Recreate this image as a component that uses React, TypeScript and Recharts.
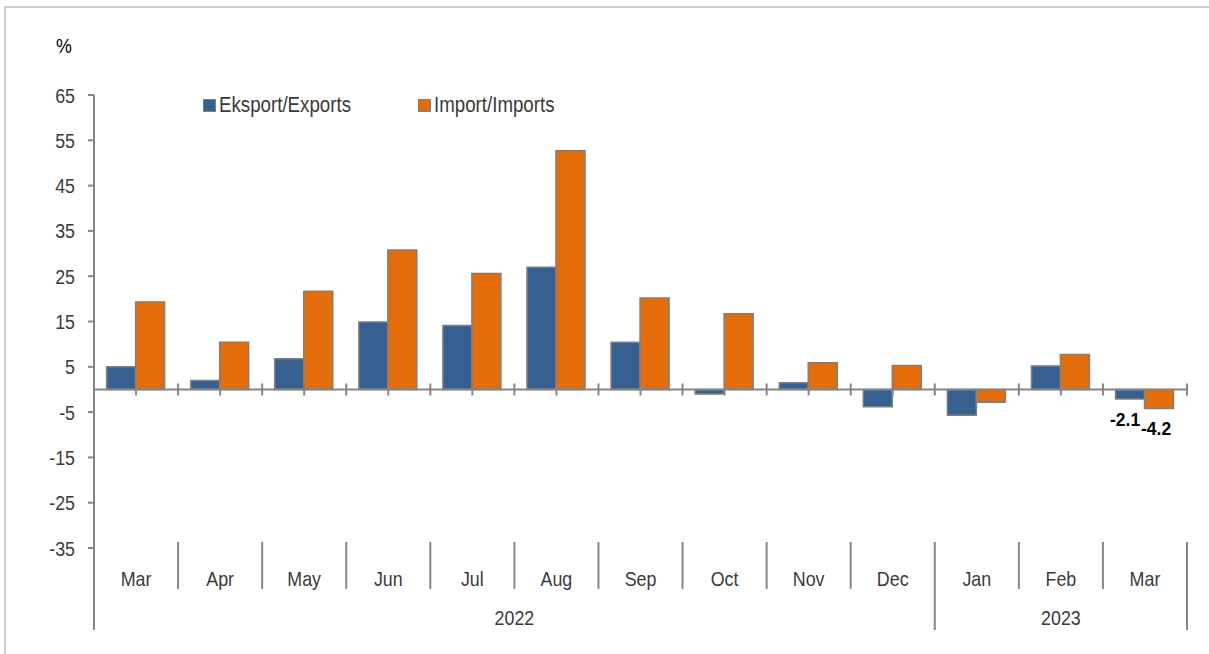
import { BarChart, Bar, XAxis, YAxis, ReferenceLine, Legend } from 'recharts'

// ---- data ----
const MONTHS = ['Mar', 'Apr', 'May', 'Jun', 'Jul', 'Aug', 'Sep', 'Oct', 'Nov', 'Dec', 'Jan', 'Feb', 'Mar']
const YEARS = ['2022', '2022', '2022', '2022', '2022', '2022', '2022', '2022', '2022', '2022', '2023', '2023', '2023']
const EXPORTS = [5.0, 2.0, 6.8, 14.9, 14.1, 27.0, 10.4, -1.0, 1.5, -3.8, -5.7, 5.2, -2.1]
const IMPORTS = [19.3, 10.4, 21.7, 30.8, 25.6, 52.7, 20.2, 16.7, 5.9, 5.3, -2.8, 7.7, -4.2]
const Y_TICKS = [-35, -25, -15, -5, 5, 15, 25, 35, 45, 55, 65]
const LABELLED_INDEX = 12 // only the latest month carries value labels

const SERIES = [
  { key: 'exports', name: 'Eksport/Exports', color: '#376092' },
  { key: 'imports', name: 'Import/Imports', color: '#E46C0A' },
]

// ---- layout ----
const W = 1209
const H = 654
const MARGIN = { top: 95, right: 22, bottom: 0, left: 0 }
const Y_AXIS_W = 94
const X_AXIS_H = 106
const PLOT_L = MARGIN.left + Y_AXIS_W
const PLOT_R = W - MARGIN.right
const PLOT_T = MARGIN.top
const PLOT_B = H - MARGIN.bottom - X_AXIS_H
const Y_MIN = -35
const Y_MAX = 65

const AXIS_GREY = '#868686'
const TEXT = '#3a3a3a'
const FONT = "'Liberation Sans', Arial, sans-serif"
const NARROW = 0.85 // no Arial Narrow here, so squeeze Liberation Sans

const data = MONTHS.map((m, i) => ({
  key: `${m} ${YEARS[i]}`,
  exports: EXPORTS[i],
  imports: IMPORTS[i],
}))

// svg text squeezed horizontally around its anchor point
function NarrowText({ x, y, anchor = 'middle', size = 21, fill = TEXT, weight, children }: any) {
  return (
    <text
      transform={`translate(${x},${y}) scale(${NARROW},1)`}
      textAnchor={anchor}
      dominantBaseline="central"
      fill={fill}
      fontSize={size}
      fontWeight={weight}
      fontFamily={FONT}
    >
      {children}
    </text>
  )
}

function YTick(props: any) {
  const { x, y, payload } = props
  return <NarrowText x={x} y={y} anchor="end">{payload.value}</NarrowText>
}

function MonthTick(props: any) {
  const { x, y, payload } = props
  const i: number = props.index ?? payload.index
  const n = MONTHS.length
  const bw = (PLOT_R - PLOT_L) / n
  const left = x - bw / 2
  const zeroY = PLOT_T + (Y_MAX / (Y_MAX - Y_MIN)) * (PLOT_B - PLOT_T)
  const groupStart = i === 0 || YEARS[i] !== YEARS[i - 1]
  const isLast = i === n - 1
  const count = YEARS.filter(v => v === YEARS[i]).length
  const st = { stroke: AXIS_GREY, strokeWidth: 2 }
  return (
    <g>
      {/* tick marks on the zero line */}
      <line x1={x} x2={x} y1={zeroY} y2={zeroY + 6} {...st} />
      {i > 0 && <line x1={left} x2={left} y1={zeroY - 6} y2={zeroY + 6} {...st} />}
      {isLast && <line x1={left + bw} x2={left + bw} y1={zeroY - 6} y2={zeroY + 6} {...st} />}
      {/* category separators below the plot */}
      <line x1={left} x2={left} y1={y - 6} y2={groupStart ? y + 82 : y + 41} {...st} />
      {isLast && <line x1={left + bw} x2={left + bw} y1={y - 6} y2={y + 82} {...st} />}
      <NarrowText x={x} y={y + 30}>{MONTHS[i]}</NarrowText>
      {groupStart && <NarrowText x={left + (count * bw) / 2} y={y + 69}>{YEARS[i]}</NarrowText>}
    </g>
  )
}

function makeValueLabel(dx: number) {
  return (props: any) => {
    const { x, y, width, height, value, index } = props
    if (index !== LABELLED_INDEX) return null
    const bottom = Math.max(y, y + height)
    return (
      <text
        transform={`translate(${x + width / 2 + dx},${bottom + 20}) scale(0.92,1)`}
        textAnchor="middle"
        dominantBaseline="central"
        fill="#000"
        fontSize={19}
        fontWeight="bold"
        fontFamily={FONT}
      >
        {Number(value).toFixed(1)}
      </text>
    )
  }
}

const renderLegend = () => (
  <div style={{ display: 'flex', fontFamily: FONT, fontSize: 22, color: TEXT }}>
    {SERIES.map(s => (
      <div key={s.key} style={{ display: 'flex', alignItems: 'center', width: 215 }}>
        <span style={{ width: 11, height: 11, background: s.color, border: '1px solid #7f7f7f', marginRight: 3, flex: 'none' }} />
        <span style={{ display: 'inline-block', transform: `scaleX(${NARROW})`, transformOrigin: 'left center', whiteSpace: 'nowrap' }}>
          {s.name}
        </span>
      </div>
    ))}
  </div>
)

export default function App() {
  return (
    <div style={{ position: 'absolute', left: 0, top: 0, width: W, height: H, background: '#fff', overflow: 'hidden' }}>
      <div style={{ position: 'absolute', left: 4, top: 6, width: W + 20, height: H + 20, borderTop: '2px solid #cfcfcf', borderLeft: '2px solid #cfcfcf' }} />
      <div style={{ position: 'absolute', left: 56, top: 34, fontFamily: FONT, fontSize: 21, color: '#000', transform: `scaleX(${NARROW})`, transformOrigin: 'left center' }}>%</div>
      <BarChart width={W} height={H} data={data} margin={MARGIN} barCategoryGap="15%" barGap={0}>
        <XAxis
          dataKey="key"
          height={X_AXIS_H}
          axisLine={false}
          tickLine={false}
          tickSize={0}
          tickMargin={0}
          interval={0}
          tick={<MonthTick />}
        />
        <YAxis
          width={Y_AXIS_W}
          domain={[Y_MIN, Y_MAX]}
          ticks={Y_TICKS}
          interval={0}
          allowDataOverflow
          axisLine={{ stroke: AXIS_GREY, strokeWidth: 2 }}
          tickLine={{ stroke: AXIS_GREY, strokeWidth: 2 }}
          tickSize={6}
          tickMargin={13}
          tick={<YTick />}
        />
        <Legend
          verticalAlign="middle"
          layout="horizontal"
          content={renderLegend}
          wrapperStyle={{ top: 92, left: 203, width: 'auto' }}
        />
        {SERIES.map((s, k) => (
          <Bar
            key={s.key}
            dataKey={s.key}
            name={s.name}
            fill={s.color}
            stroke="#7f7f7f"
            strokeWidth={1.5}
            isAnimationActive={false}
            label={makeValueLabel(k === 0 ? -5 : -3)}
          />
        ))}
        <ReferenceLine y={0} stroke={AXIS_GREY} strokeWidth={2} />
      </BarChart>
    </div>
  )
}
